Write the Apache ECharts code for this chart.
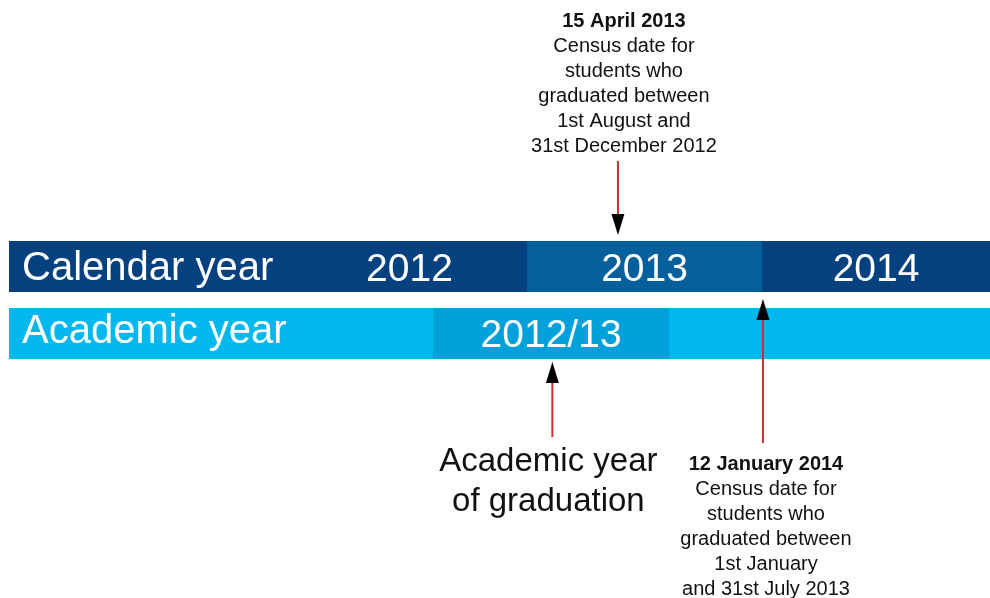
<!DOCTYPE html>
<html><head><meta charset="utf-8">
<script src="https://cdn.jsdelivr.net/npm/echarts@6/dist/echarts.min.js"></script>
<style>html,body{margin:0;padding:0;background:#fff}#c{width:990px;height:598px}</style>
</head><body><div id="c"></div><script>
// ---- data ----
const rowNames = ['Calendar year', 'Academic year'];
const calendarLabels = ['2012', '2013', '2014'];
const calendarStarts = [2012, 2013, 2014];
const calendarEnds = [2013, 2014, 2015];
const academicLabels = ['2012/13'];
const academicStarts = [2012.6];
const academicEnds = [2013.605];
const censusDates = [2013.387, 2014.004];
const censusTitles = ['15 April 2013', '12 January 2014'];
const censusNotes = [
  ['Census date for', 'students who', 'graduated between', '1st August and', '31st December 2012'],
  ['Census date for', 'students who', 'graduated between', '1st January', 'and 31st July 2013']
];
const graduationPoint = [2013.108];
const graduationLabel = ['Academic year', 'of graduation'];

// ---- axis range & styles ----
const AXIS_MIN = 2010.796, AXIS_MAX = 2014.97;
const FONT = '"Liberation Sans", Arial, Helvetica, sans-serif';
const CAL_DARK = '#05417F', CAL_MID = '#04609D';
const ACAD_LIGHT = '#00B7EE', ACAD_MID = '#00A0DA';
const calendarColors = [CAL_DARK, CAL_MID, CAL_DARK];
const RED = '#D52A30';
const BAR_H = 51;
const rowLabelDy = [2, -2];
const segLabelDy = [4, 3];

// build segments
const segs = [];
segs.push({ start: AXIS_MIN, end: AXIS_MAX, row: 0, label: rowNames[0], kind: 'row', color: CAL_DARK });
calendarLabels.forEach((l, i) => segs.push({ start: calendarStarts[i], end: calendarEnds[i], row: 0, label: l, kind: 'seg', color: calendarColors[i] }));
segs.push({ start: AXIS_MIN, end: AXIS_MAX, row: 1, label: rowNames[1], kind: 'row', color: ACAD_LIGHT });
academicLabels.forEach((l, i) => segs.push({ start: academicStarts[i], end: academicEnds[i], row: 1, label: l, kind: 'seg', color: ACAD_MID }));

// annotations
const anns = [
  { x: censusDates[0], row: 0, dir: 'down', title: censusTitles[0], lines: censusNotes[0] },
  { x: censusDates[1], row: 0, dir: 'up', title: censusTitles[1], lines: censusNotes[1] },
  { x: graduationPoint[0], row: 1, dir: 'up', title: null, lines: graduationLabel }
];
const annLayout = [
  { tipGap: 6, lineLen: 74, textTop: 9, textDx: 6, lineH: 25, size: 20 },
  { tipGap: 7, lineLen: 144, textTop: 451.5, textDx: 3, lineH: 25, size: 20 },
  { tipGap: 3, lineLen: 75, textTop: 442, textDx: -4, lineH: 40, size: 33 }
];

function renderBar(params, api) {
  const s = segs[params.dataIndex];
  const cs = params.coordSys;
  const x0 = Math.max(api.coord([s.start, s.row])[0], cs.x);
  const x1 = Math.min(api.coord([s.end, s.row])[0], cs.x + cs.width);
  const cy = api.coord([s.start, s.row])[1];
  const children = [{
    type: 'rect',
    shape: { x: x0, y: cy - BAR_H / 2, width: x1 - x0, height: BAR_H },
    style: { fill: s.color }
  }];
  if (s.kind === 'row') {
    children.push({ type: 'text', style: { text: s.label, x: x0 + 13, y: cy + rowLabelDy[s.row], fill: '#fff', font: '40px ' + FONT, align: 'left', verticalAlign: 'middle' } });
  } else {
    children.push({ type: 'text', style: { text: s.label, x: (x0 + x1) / 2, y: cy + segLabelDy[s.row], fill: '#fff', font: '39px ' + FONT, align: 'center', verticalAlign: 'middle' } });
  }
  return { type: 'group', children };
}

function renderAnn(params, api) {
  const a = anns[params.dataIndex];
  const L = annLayout[params.dataIndex];
  const p = api.coord([a.x, a.row]);
  const x = p[0];
  const children = [];
  const headH = 21, headW = 13;
  let tip, base, lineEnd;
  if (a.dir === 'down') {
    tip = p[1] - BAR_H / 2 - L.tipGap; base = tip - headH; lineEnd = tip - L.lineLen;
  } else {
    tip = p[1] + BAR_H / 2 + L.tipGap; base = tip + headH; lineEnd = tip + L.lineLen;
  }
  children.push({ type: 'line', shape: { x1: x, y1: base, x2: x, y2: lineEnd }, style: { stroke: RED, lineWidth: 2 } });
  children.push({ type: 'polygon', shape: { points: [[x - headW / 2, base], [x + headW / 2, base], [x, tip]] }, style: { fill: '#000' } });
  const lines = (a.title ? [a.title] : []).concat(a.lines);
  lines.forEach((t, i) => {
    const bold = a.title && i === 0;
    children.push({ type: 'text', style: {
      text: t, x: x + L.textDx, y: L.textTop + L.lineH * (i + 0.5),
      fill: '#111', font: (bold ? 'bold ' : '') + L.size + 'px ' + FONT,
      align: 'center', verticalAlign: 'middle'
    } });
  });
  return { type: 'group', children };
}

const chart = echarts.init(document.getElementById('c'), null, { renderer: 'canvas' });
chart.setOption({
  animation: false,
  backgroundColor: '#fff',
  grid: { left: 9, right: 0, top: 233, height: 134 },
  xAxis: { type: 'value', min: AXIS_MIN, max: AXIS_MAX, show: false },
  yAxis: { type: 'category', data: rowNames, inverse: true, show: false },
  series: [
    { type: 'custom', renderItem: renderBar, data: segs.map(s => [s.start, s.row]), silent: true },
    { type: 'custom', renderItem: renderAnn, data: anns.map(a => [a.x, a.row]), silent: true }
  ]
});
</script></body></html>
